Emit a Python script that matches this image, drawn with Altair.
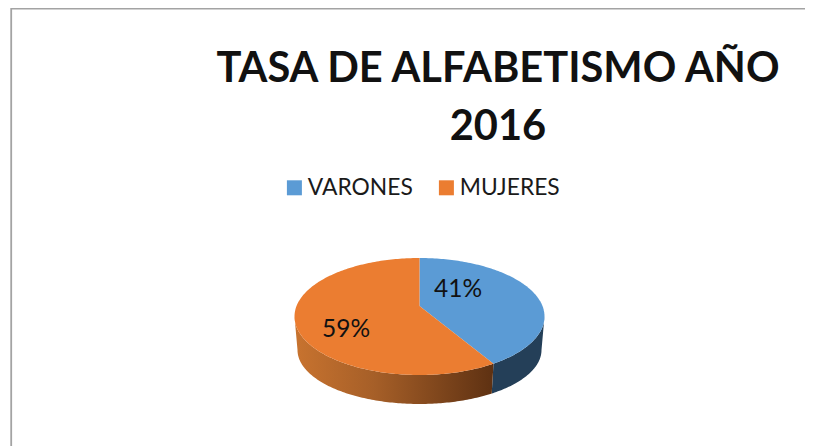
import math
import altair as alt
import pandas as pd

categories = ["VARONES", "MUJERES"]
shares = [41, 59]
colors = ["#5b9bd5", "#eb7d31"]
title_lines = ["TASA DE ALFABETISMO AÑO", "2016"]

W, H = 797, 438
OX, OY = 8, 8
CX, CY, RX, RY = 419.5, 316.5, 125, 58.5      # top ellipse
BCY, BRX, BRY = 350, 122, 54                  # lower rim
APEX_Y = 306
SKEW = 143.7 / 147.6                          # perspective foreshortening of the split


def top(t):
    r = math.radians(t)
    return CX + RX * math.sin(r), CY - RY * math.cos(r)


def bot(t):
    r = math.radians(t)
    return CX + BRX * math.sin(r), BCY - BRY * math.cos(r)


split = shares[0] / sum(shares) * 360 * SKEW
rows = []


def poly(name, pts):
    for i, (x, y) in enumerate(pts):
        rows.append({"part": name, "i": i, "x": x - OX, "y": y - OY})


poly("wall_blue",
     [top(t) for t in range(90, int(split) + 1)] + [top(split), bot(split)]
     + [bot(t) for t in range(int(split), 89, -1)])
poly("wall_orange",
     [top(split)] + [top(t) for t in range(int(split) + 1, 271)]
     + [bot(t) for t in range(270, int(split), -1)] + [bot(split)])
poly(categories[0],
     [(CX, APEX_Y)] + [top(t) for t in range(0, int(split) + 1)] + [top(split)])
poly(categories[1],
     [(CX, APEX_Y), top(split)] + [top(t) for t in range(int(split) + 1, 361)])
df = pd.DataFrame(rows)

xs = alt.Scale(domain=[0, W], range=[0, W], nice=False)
ys = alt.Scale(domain=[0, H], range=[0, H], nice=False)
X = alt.X("x:Q", scale=xs, axis=None)
Y = alt.Y("y:Q", scale=ys, axis=None)


def wall(name, fill):
    return (
        alt.Chart(df[df.part == name])
        .mark_line(fill=fill, stroke=None, interpolate="linear")
        .encode(x=X, y=Y, order="i:Q")
    )


gradient = alt.Gradient(
    gradient="linear", x1=0, x2=1, y1=0, y2=0,
    stops=[
        alt.GradientStop(color="#c8732f", offset=0),
        alt.GradientStop(color="#a65f28", offset=0.4),
        alt.GradientStop(color="#5e3112", offset=1),
    ],
)

faces = (
    alt.Chart(df[df.part.isin(categories)])
    .mark_line(stroke=None, interpolate="linear")
    .encode(
        x=X, y=Y, order="i:Q",
        fill=alt.Fill(
            "part:N",
            scale=alt.Scale(domain=categories, range=colors),
            legend=alt.Legend(
                title=None, orient="none", direction="horizontal",
                legendX=275, legendY=168, symbolType="square", symbolSize=225,
                symbolStrokeWidth=0, labelFont="Lato", labelFontSize=22.8,
                labelColor="#1a1a1a", columnPadding=22, labelOffset=2,
                symbolOpacity=1,
            ),
        ),
    )
)

labels = pd.DataFrame({
    "text": [f"{s}%" for s in shares],
    "x": [458 - OX, 346 - OX],
    "y": [290 - OY, 330 - OY],
})
pct = (
    alt.Chart(labels)
    .mark_text(font="Lato", fontSize=24.5, color="#111111", align="center", baseline="middle")
    .encode(x=alt.X("x:Q", scale=xs, axis=None), y=alt.Y("y:Q", scale=ys, axis=None), text="text:N")
)

titles = pd.DataFrame({"text": title_lines, "x": [498 - OX] * 2, "y": [82 - OY, 140 - OY]})
title = (
    alt.Chart(titles)
    .mark_text(font="Lato", fontWeight="bold", fontSize=41.6, color="#111111", align="center", baseline="alphabetic")
    .encode(x=alt.X("x:Q", scale=xs, axis=None), y=alt.Y("y:Q", scale=ys, axis=None), text="text:N")
)

frame_top = alt.Chart(pd.DataFrame({"a": [0]})).mark_rule(color="#a3a3a3", strokeWidth=1.8).encode(
    x=alt.value(3), x2=alt.value(W), y=alt.value(0.5))
frame_left = alt.Chart(pd.DataFrame({"a": [0]})).mark_rule(color="#a3a3a3", strokeWidth=1.8).encode(
    x=alt.value(3.2), y=alt.value(0), y2=alt.value(H))

chart = (
    alt.layer(frame_top, frame_left, wall("wall_blue", "#243f58"), wall("wall_orange", gradient),
              faces, pct, title)
    .properties(width=W, height=H, padding=0, autosize=alt.AutoSizeParams(type="none"))
    .configure_view(stroke=None)
)
chart.save("out.html", embed_options={"renderer": "svg", "actions": False})
